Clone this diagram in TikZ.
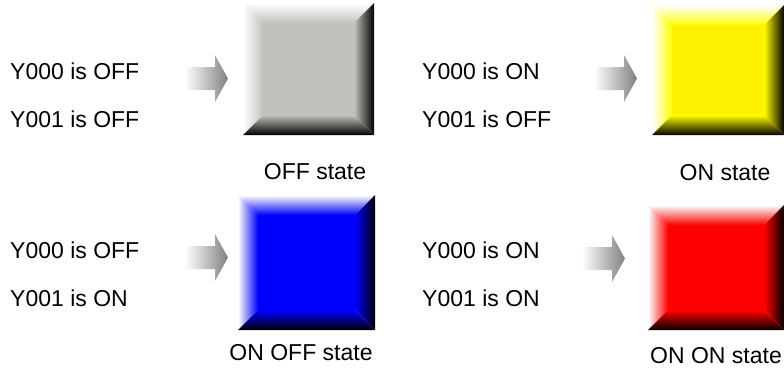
\documentclass[tikz,border=0pt]{standalone}
\usepackage{fontspec}
\setmainfont{Liberation Sans}
\usepackage{xcolor}
\definecolor{offgray}{RGB}{194,194,188}
\definecolor{arrowgray}{RGB}{128,128,128}

% bevelled lamp: x, y, width, height, face colour (bevel 20)
\newcommand{\bevelbox}[5]{%
  \fill[#5] ({#1+20},{#2+20}) rectangle ({#1+#3-20},{#2+#4-20});
  \shade[top color=white, bottom color=#5] (#1,#2) -- ({#1+#3},#2) -- ({#1+#3-20},{#2+20}) -- ({#1+20},{#2+20}) -- cycle;
  \shade[left color=white, right color=#5] (#1,#2) -- ({#1+20},{#2+20}) -- ({#1+20},{#2+#4-20}) -- (#1,{#2+#4}) -- cycle;
  \shade[left color=#5, right color=black] ({#1+#3},#2) -- ({#1+#3},{#2+#4}) -- ({#1+#3-20},{#2+#4-20}) -- ({#1+#3-20},{#2+20}) -- cycle;
  \shade[top color=#5, bottom color=black] (#1,{#2+#4}) -- ({#1+#3},{#2+#4}) -- ({#1+#3-20},{#2+#4-20}) -- ({#1+20},{#2+#4-20}) -- cycle;
}

% block arrow: tip x, centre y
\newcommand{\blockarrow}[2]{%
  \shade[left color=white, right color=arrowgray]
    ({#1-43},{#2-11.5}) -- ({#1-13},{#2-11.5}) -- ({#1-13},{#2-23.5}) -- (#1,#2)
    -- ({#1-13},{#2+23.5}) -- ({#1-13},{#2+11.5}) -- ({#1-43},{#2+11.5}) -- cycle;
}

\tikzset{
  lbl/.style={font=\fontsize{23}{27}\selectfont, inner sep=0pt, anchor=base west},
  statelbl/.style={font=\fontsize{23}{27}\selectfont, inner sep=0pt, anchor=base}
}

\begin{document}
\begin{tikzpicture}[x=1pt, y=-1pt]
  \useasboundingbox (0,0) rectangle (784,381);

  % OFF state
  \node[lbl] (offa) at (10,79) {Y000 is OFF};
  \node[lbl] (offb) at (10,127.5) {Y001 is OFF};
  \blockarrow{228}{78.5}
  \bevelbox{243}{3}{131}{132}{offgray}
  \node[statelbl] (offst) at (315,179) {OFF state};

  % ON state
  \node[lbl] (ona) at (422,79) {Y000 is ON};
  \node[lbl] (onb) at (422,127.5) {Y001 is OFF};
  \blockarrow{637}{78.5}
  \bevelbox{652}{5}{132}{130}{yellow}
  \node[statelbl] (onst) at (725,180) {ON state};

  % ON OFF state
  \node[lbl] (onoffa) at (10,258) {Y000 is OFF};
  \node[lbl] (onoffb) at (10,306) {Y001 is ON};
  \blockarrow{228}{257.5}
  \bevelbox{238}{195}{137}{135}{blue}
  \node[statelbl] (onoffst) at (301,360) {ON OFF state};

  % ON ON state
  \node[lbl] (onona) at (422,258) {Y000 is ON};
  \node[lbl] (ononb) at (422,306) {Y001 is ON};
  \blockarrow{625}{258.5}
  \bevelbox{648}{205}{136}{125}{red}
  \node[statelbl] (ononst) at (716,363) {ON ON state};
\end{tikzpicture}
\end{document}
